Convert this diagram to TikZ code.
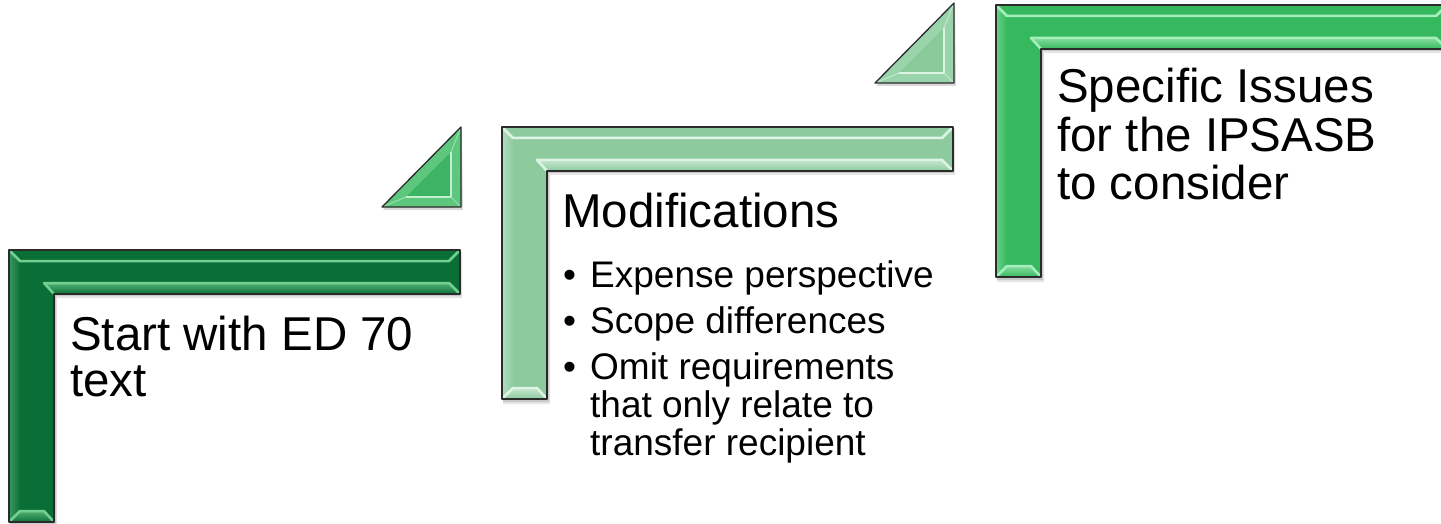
\documentclass[tikz,border=0pt]{standalone}
\usepackage{fontspec}
\setmainfont{Liberation Sans}
\definecolor{gA}{HTML}{0A6F37}
\definecolor{gAl}{HTML}{72CF90}
\definecolor{gB}{HTML}{8DCB9F}
\definecolor{gBl}{HTML}{DDF3E3}
\definecolor{gC}{HTML}{35B85E}
\definecolor{gCl}{HTML}{A6EEBB}
\definecolor{triA}{HTML}{5CC77D}
\definecolor{triAf}{HTML}{3DB463}
\definecolor{triAl}{HTML}{C2F0CF}
\definecolor{triB}{HTML}{99D4AA}
\definecolor{triBf}{HTML}{8ACB9C}
\definecolor{triBl}{HTML}{DDF4E4}
\definecolor{edgec}{HTML}{2B2B2B}
\newcommand\stepshape[2]{%
  \fill[black,opacity=.10] (10,252) -- (462,252) -- (462,298) -- (57,298) -- (57,527) -- (10,527) -- cycle;
  \fill[black,opacity=.12] (10,251) -- (461,251) -- (461,296) -- (56,296) -- (56,525) -- (10,525) -- cycle;
  \fill[#1] (9,250) -- (460,250) -- (460,294) -- (54,294) -- (54,522) -- (9,522) -- cycle;
  \shade[top color=#2!70!#1, bottom color=#1] (44,283) -- (449,283) -- (460,294) -- (54,294) -- cycle;
  \shade[top color=#2!70!#1, bottom color=#1] (20,511) -- (44,511) -- (54,522) -- (9,522) -- cycle;
  \shade[left color=#2!45!#1, right color=#1] (9,250) -- (20,261) -- (20,511) -- (9,522) -- cycle;
  \draw[#2, line width=2.5pt, line join=round] (9,250) -- (20,261) -- (449,261) -- (460,250);
  \draw[#2, line width=2.5pt, line join=round] (54,294) -- (44,283) -- (449,283) -- (460,294);
  \draw[#2, line width=2.5pt, line join=round] (9,522) -- (20,511) -- (44,511) -- (54,522);
  \draw[edgec, line width=1.3pt, line join=round] (9,250) -- (460,250) -- (460,294) -- (54,294) -- (54,522) -- (9,522) -- cycle;
}
\newcommand\steptri[3]{%
  \fill[black,opacity=.15] (383,210) -- (462,130) -- (463,210) -- cycle;
  \fill[#1] (382,207) -- (461,127) -- (461,207) -- cycle;
  \fill[#2] (406,197) -- (451,152) -- (451,197) -- cycle;
  \draw[#3, line width=2.5pt, line join=round] (406,197) -- (451,197) -- (451,152);
  \draw[#3!60!#1, line width=1pt] (382,207)--(406,197) (461,127)--(451,152) (461,207)--(451,197);
  \draw[edgec, line width=1.3pt, line join=round] (382,207) -- (461,127) -- (461,207) -- cycle;
}
\tikzset{
  heading/.style={anchor=base west, inner sep=0pt, font=\fontsize{47.5}{46}\selectfont},
  bullets/.style={anchor=base west, inner sep=0pt, font=\fontsize{37}{36.5}\selectfont}
}
\begin{document}
\begin{tikzpicture}[x=1pt, y=-1pt]
\useasboundingbox (0,0) rectangle (1441,524);
\fill[white] (0,0) rectangle (1441,524);
% step 1
\stepshape{gA}{gAl}
\steptri{triA}{triAf}{triAl}
% step 2
\begin{scope}[shift={(493,-123)}]
  \stepshape{gB}{gBl}
\end{scope}
\begin{scope}[shift={(493,-124)}]
  \steptri{triB}{triBf}{triBl}
\end{scope}
% step 3
\begin{scope}[shift={(987,-245)}]
  \stepshape{gC}{gCl}
\end{scope}
% texts
\node[heading] (t1) at (70,350) {\begin{tabular}[t]{@{}l@{}}Start with ED 70\\text\end{tabular}};
\node[heading] (t2) at (562,227) {Modifications};
\node[bullets] (t2b) at (563,287) {\begin{tabular}[t]{@{}l@{}l@{}}
\makebox[27pt][l]{•} & Expense perspective\\[8.5pt]
\makebox[27pt][l]{•} & Scope differences\\[8.5pt]
\makebox[27pt][l]{•} & Omit requirements\\
 & that only relate to\\
 & transfer recipient
\end{tabular}};
\node[heading] (t3) at (1057,103) {\begin{tabular}[t]{@{}l@{}}Specific Issues\\for the IPSASB\\to consider\end{tabular}};
\end{tikzpicture}
\end{document}
